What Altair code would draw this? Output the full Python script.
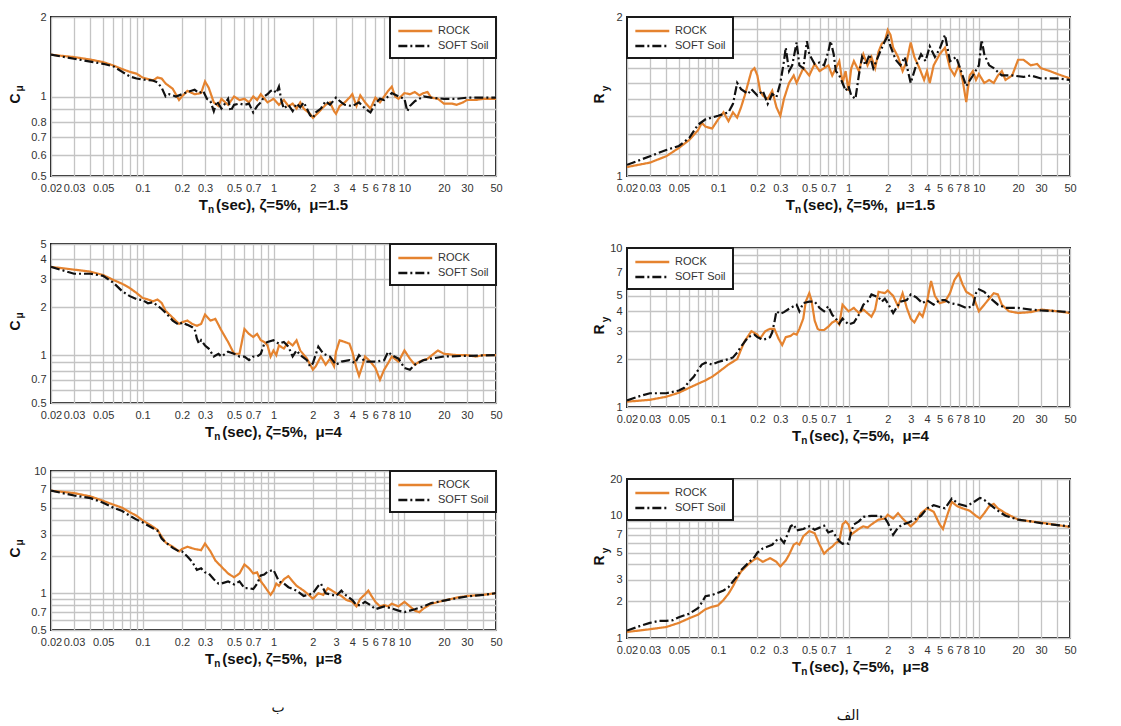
import altair as alt
import pandas as pd

FONT = "Liberation Sans"
ROCK_COLOR = "#E5832F"
SOFT_COLOR = "#111111"
SERIES = ["ROCK", "SOFT Soil"]

X_GRID = [0.02, 0.03, 0.04, 0.05, 0.06, 0.07, 0.08, 0.09, 0.1, 0.2, 0.3, 0.4, 0.5, 0.6, 0.7, 0.8, 0.9,
          1, 2, 3, 4, 5, 6, 7, 8, 9, 10, 20, 30, 40, 50]
X_LABELS = [0.02, 0.03, 0.05, 0.1, 0.2, 0.3, 0.5, 0.7, 1, 2, 3, 4, 5, 6, 7, 8, 10, 20, 30, 50]

# ---------------- Panel data (T [sec], value) ----------------
c15_rock = [(0.02,1.44),(0.03,1.41),(0.04,1.38),(0.05,1.35),(0.06,1.31),(0.07,1.27),(0.08,1.24),(0.09,1.22),(0.1,1.18),
            (0.12,1.15),(0.13,1.18),(0.14,1.17),(0.15,1.12),(0.17,1.07),(0.19,0.97),(0.2,1.0),(0.22,1.05),(0.25,1.02),
            (0.28,1.03),(0.3,1.14),(0.32,1.08),(0.35,0.95),(0.38,0.92),(0.4,0.98),(0.45,0.93),(0.5,1.0),(0.55,0.97),
            (0.6,0.98),(0.65,0.95),(0.7,1.0),(0.75,0.97),(0.8,1.02),(0.9,0.95),(1.0,0.98),(1.1,0.93),(1.2,0.97),
            (1.3,0.92),(1.4,0.94),(1.5,0.90),(1.6,0.95),(1.7,0.90),(1.8,0.88),(1.9,0.86),(2.0,0.83),(2.2,0.87),
            (2.5,0.93),(2.7,0.95),(2.9,0.88),(3.0,0.86),(3.2,0.92),(3.5,0.95),(3.8,0.99),(4.0,1.02),(4.3,0.92),
            (4.6,1.01),(5.0,0.95),(5.5,0.90),(6.0,0.99),(6.5,0.95),(7.0,1.0),(7.5,1.05),(8.0,1.09),(8.5,1.0),
            (9,0.98),(10,1.03),(11,1.02),(12,1.04),(13,1.01),(14,1.03),(15,1.04),(16,0.99),(18,0.98),(20,0.94),
            (23,0.94),(25,0.93),(28,0.95),(30,0.97),(35,0.97),(40,0.98),(50,0.98)]
c15_soft = [(0.02,1.44),(0.03,1.39),(0.05,1.33),(0.06,1.30),(0.07,1.24),(0.08,1.19),(0.09,1.17),(0.1,1.16),(0.12,1.15),
            (0.13,1.13),(0.14,1.08),(0.15,1.00),(0.16,1.02),(0.18,1.0),(0.2,1.02),(0.22,1.04),(0.25,1.06),(0.27,1.03),
            (0.29,1.05),(0.31,0.98),(0.33,0.96),(0.35,0.88),(0.37,0.96),(0.4,0.90),(0.42,0.93),(0.45,0.98),(0.47,0.88),
            (0.5,0.93),(0.55,0.94),(0.6,0.93),(0.65,0.94),(0.7,0.87),(0.75,0.92),(0.8,0.95),(0.85,1.0),(0.9,1.02),
            (0.95,1.05),(1.0,1.06),(1.05,1.03),(1.1,1.09),(1.15,0.96),(1.2,0.90),(1.3,0.93),(1.4,0.88),(1.5,0.94),
            (1.6,0.91),(1.7,0.95),(1.8,0.90),(1.9,0.85),(2.0,0.83),(2.1,0.87),(2.3,0.90),(2.5,0.96),(2.7,0.93),
            (3.0,0.99),(3.3,0.95),(3.5,0.93),(4.0,0.92),(4.5,0.95),(5.0,0.90),(5.5,0.87),(6.0,0.94),(6.5,0.98),
            (7.0,0.97),(7.5,1.0),(8.0,1.03),(9.0,1.0),(10,0.98),(10.5,0.88),(11,0.92),(12,0.96),(14,1.0),(16,0.99),
            (20,0.98),(25,0.98),(30,0.99),(40,0.99),(50,0.99)]

c4_rock = [(0.02,3.59),(0.03,3.45),(0.04,3.35),(0.05,3.19),(0.06,2.97),(0.07,2.81),(0.08,2.64),(0.09,2.46),(0.1,2.29),
           (0.11,2.24),(0.12,2.18),(0.13,2.24),(0.14,2.13),(0.15,1.90),(0.17,1.72),(0.19,1.57),(0.2,1.61),(0.22,1.65),
           (0.24,1.57),(0.26,1.53),(0.28,1.57),(0.3,1.80),(0.33,1.65),(0.36,1.69),(0.4,1.43),(0.45,1.21),(0.5,1.02),
           (0.55,1.02),(0.6,1.46),(0.65,1.36),(0.7,1.30),(0.75,1.36),(0.8,1.24),(0.85,1.21),(0.9,1.15),(0.95,0.98),
           (1.0,1.07),(1.05,1.0),(1.1,1.15),(1.2,1.10),(1.3,1.21),(1.4,1.15),(1.5,1.24),(1.6,1.07),(1.8,0.95),
           (2.0,0.81),(2.1,0.85),(2.3,0.98),(2.5,0.87),(2.7,0.95),(2.9,0.85),(3.0,1.05),(3.2,1.24),(3.5,1.21),
           (3.8,1.18),(4.0,1.05),(4.3,0.83),(4.5,0.74),(4.8,0.87),(5.0,0.98),(5.5,0.91),(6.0,0.83),(6.5,0.70),
           (7.0,0.81),(7.5,0.89),(8.0,0.98),(9.0,0.91),(10,1.07),(11,0.95),(12,0.87),(13,0.91),(15,0.95),(18,1.07),
           (20,1.02),(25,1.0),(30,1.0),(35,0.98),(40,1.0),(50,1.0)]
c4_soft = [(0.02,3.59),(0.03,3.25),(0.04,3.25),(0.05,3.15),(0.06,2.85),(0.07,2.52),(0.08,2.35),(0.09,2.25),(0.1,2.22),
           (0.11,2.12),(0.12,2.15),(0.13,2.05),(0.14,1.95),(0.15,1.85),(0.17,1.65),(0.19,1.55),(0.2,1.60),(0.22,1.55),
           (0.24,1.50),(0.25,1.46),(0.26,1.27),(0.27,1.18),(0.28,1.24),(0.3,1.15),(0.32,1.10),(0.35,0.98),(0.38,1.02),
           (0.4,0.98),(0.45,1.05),(0.5,1.02),(0.55,0.98),(0.6,0.98),(0.65,0.93),(0.7,0.98),(0.75,0.98),(0.8,1.02),
           (0.85,1.18),(0.9,1.21),(1.0,1.24),(1.1,1.18),(1.2,1.21),(1.3,1.13),(1.4,0.98),(1.5,1.07),(1.6,1.0),
           (1.8,0.93),(1.9,0.85),(2.0,0.89),(2.2,1.13),(2.4,1.02),(2.7,0.98),(3.0,0.87),(3.3,0.91),(3.8,0.93),
           (4.2,0.89),(4.5,1.0),(5.0,0.91),(6.0,0.91),(7.0,0.93),(7.5,1.05),(8.0,1.0),(9.0,0.95),(10,0.83),(11,0.81),
           (12,0.87),(14,0.93),(16,0.95),(20,0.98),(30,0.99),(50,1.0)]

c8_rock = [(0.02,6.9),(0.03,6.6),(0.04,6.2),(0.05,5.7),(0.06,5.3),(0.07,5.0),(0.08,4.6),(0.09,4.3),(0.1,3.95),
           (0.12,3.5),(0.13,3.3),(0.14,2.9),(0.15,2.6),(0.17,2.4),(0.19,2.2),(0.2,2.3),(0.22,2.4),(0.25,2.3),
           (0.28,2.25),(0.3,2.55),(0.33,2.2),(0.36,1.85),(0.4,1.65),(0.45,1.45),(0.5,1.35),(0.55,1.45),(0.6,1.72),
           (0.65,1.6),(0.7,1.45),(0.75,1.48),(0.8,1.25),(0.85,1.15),(0.9,1.05),(0.95,0.97),(1.0,1.05),(1.05,1.2),
           (1.1,1.15),(1.2,1.3),(1.3,1.38),(1.4,1.25),(1.5,1.15),(1.7,1.05),(1.9,0.95),(2.0,0.9),(2.2,1.0),
           (2.4,0.97),(2.6,1.1),(2.8,1.05),(3.0,1.0),(3.3,0.95),(3.6,0.88),(4.0,0.85),(4.3,0.78),(4.6,0.90),
           (5.0,0.98),(5.3,1.05),(5.6,0.95),(6.0,0.85),(6.5,0.78),(7.0,0.80),(7.5,0.78),(8.0,0.82),(9,0.78),
           (10,0.85),(11,0.78),(12,0.72),(13,0.70),(14,0.75),(16,0.82),(20,0.87),(25,0.92),(30,0.95),(40,0.97),(50,1.0)]
c8_soft = [(0.02,6.9),(0.03,6.3),(0.04,6.0),(0.05,5.5),(0.06,5.0),(0.07,4.7),(0.08,4.3),(0.09,4.0),(0.1,3.8),
           (0.12,3.4),(0.13,3.25),(0.14,2.8),(0.15,2.6),(0.17,2.35),(0.19,2.2),(0.2,2.2),(0.22,2.0),(0.24,1.8),
           (0.26,1.55),(0.28,1.6),(0.3,1.48),(0.32,1.45),(0.35,1.3),(0.38,1.2),(0.4,1.2),(0.45,1.25),(0.5,1.18),
           (0.55,1.25),(0.6,1.1),(0.65,1.1),(0.7,1.08),(0.75,1.2),(0.8,1.4),(0.85,1.42),(0.9,1.5),(1.0,1.55),
           (1.1,1.25),(1.2,1.2),(1.3,1.12),(1.5,1.05),(1.7,0.95),(1.9,0.98),(2.0,1.0),(2.2,1.15),(2.3,1.2),
           (2.5,1.0),(2.8,0.97),(3.0,0.95),(3.3,1.05),(3.5,0.98),(4.0,0.88),(4.3,0.80),(4.6,0.80),(5.0,0.85),
           (5.5,0.80),(6.0,0.74),(7.0,0.78),(8.0,0.75),(9,0.72),(10,0.70),(11,0.72),(12,0.74),(14,0.78),(16,0.83),
           (20,0.87),(25,0.91),(30,0.94),(40,0.97),(50,1.0)]

r15_rock = [(0.02,1.04),(0.03,1.06),(0.04,1.09),(0.05,1.13),(0.06,1.17),(0.07,1.22),(0.075,1.26),(0.08,1.24),(0.09,1.23),
            (0.1,1.28),(0.11,1.32),(0.12,1.27),(0.13,1.32),(0.14,1.29),(0.15,1.35),(0.16,1.42),(0.17,1.50),(0.18,1.58),
            (0.19,1.60),(0.2,1.55),(0.21,1.45),(0.22,1.42),(0.24,1.40),(0.26,1.45),(0.28,1.35),(0.3,1.30),(0.32,1.40),
            (0.35,1.50),(0.38,1.55),(0.4,1.50),(0.45,1.60),(0.5,1.55),(0.55,1.63),(0.6,1.58),(0.65,1.60),(0.7,1.62),
            (0.75,1.55),(0.8,1.60),(0.85,1.65),(0.9,1.50),(0.95,1.58),(1.0,1.45),(1.05,1.60),(1.1,1.65),(1.2,1.58),
            (1.3,1.70),(1.4,1.62),(1.5,1.68),(1.6,1.60),(1.7,1.72),(1.8,1.78),(1.9,1.80),(2.0,1.89),(2.1,1.85),
            (2.2,1.75),(2.4,1.68),(2.6,1.58),(2.8,1.65),(3.0,1.79),(3.2,1.68),(3.5,1.60),(3.8,1.52),(4.0,1.58),
            (4.2,1.50),(4.5,1.62),(5.0,1.70),(5.5,1.75),(6.0,1.60),(6.5,1.55),(7.0,1.62),(7.5,1.52),(8.0,1.38),
            (8.5,1.55),(9.0,1.58),(9.5,1.52),(10,1.56),(11,1.50),(12,1.52),(13,1.50),(14,1.55),(15,1.58),(16,1.52),
            (18,1.55),(20,1.66),(22,1.66),(25,1.62),(28,1.63),(30,1.60),(35,1.58),(40,1.56),(50,1.53)]
r15_soft = [(0.02,1.05),(0.03,1.09),(0.04,1.12),(0.05,1.14),(0.06,1.18),(0.07,1.25),(0.08,1.28),(0.1,1.30),(0.12,1.32),
            (0.13,1.37),(0.14,1.50),(0.15,1.46),(0.17,1.43),(0.18,1.46),(0.2,1.42),(0.22,1.45),(0.24,1.37),(0.26,1.43),
            (0.28,1.41),(0.3,1.50),(0.32,1.65),(0.33,1.75),(0.35,1.58),(0.37,1.62),(0.4,1.79),(0.42,1.62),(0.45,1.60),
            (0.48,1.80),(0.5,1.70),(0.55,1.63),(0.6,1.64),(0.65,1.62),(0.7,1.72),(0.73,1.80),(0.77,1.70),(0.8,1.58),
            (0.85,1.55),(0.9,1.50),(0.95,1.45),(1.0,1.48),(1.05,1.42),(1.13,1.40),(1.2,1.55),(1.27,1.68),(1.35,1.62),
            (1.45,1.70),(1.55,1.60),(1.65,1.66),(1.75,1.72),(1.9,1.80),(2.0,1.84),(2.1,1.76),(2.3,1.66),(2.5,1.62),
            (2.7,1.68),(3.0,1.50),(3.3,1.62),(3.6,1.70),(3.9,1.65),(4.2,1.76),(4.6,1.68),(5.0,1.74),(5.5,1.85),
            (6.0,1.65),(6.7,1.68),(7.3,1.58),(8.0,1.48),(9.0,1.55),(10,1.62),(10.5,1.81),(11,1.70),(12,1.62),
            (13,1.60),(15,1.55),(18,1.55),(22,1.54),(25,1.55),(30,1.53),(40,1.53),(50,1.52)]

r4_rock = [(0.02,1.08),(0.03,1.11),(0.04,1.16),(0.05,1.23),(0.06,1.32),(0.07,1.40),(0.08,1.47),(0.09,1.55),(0.1,1.65),
           (0.12,1.85),(0.14,2.0),(0.15,2.3),(0.16,2.6),(0.18,3.0),(0.2,2.85),(0.21,2.70),(0.23,3.0),(0.25,3.1),
           (0.27,3.1),(0.29,2.70),(0.31,2.45),(0.33,2.75),(0.36,2.80),(0.38,2.90),(0.4,2.85),(0.42,3.10),(0.45,3.60),
           (0.47,4.6),(0.5,5.2),(0.52,4.7),(0.55,3.5),(0.58,3.1),(0.6,3.05),(0.65,3.05),(0.7,3.2),(0.75,3.4),
           (0.8,3.5),(0.85,3.3),(0.9,4.4),(1.0,4.0),(1.1,4.2),(1.2,3.9),(1.3,4.1),(1.5,3.7),(1.6,4.1),(1.7,5.3),
           (1.9,5.2),(2.0,5.4),(2.2,5.0),(2.4,4.3),(2.6,5.2),(2.8,4.2),(3.0,3.6),(3.2,3.4),(3.5,3.9),(3.7,3.7),
           (4.0,4.6),(4.3,6.2),(4.6,5.0),(5.0,4.5),(5.5,4.6),(6.0,5.2),(6.5,6.3),(7.0,6.9),(7.5,5.9),(8,5.3),
           (9,5.0),(10,4.0),(11,4.4),(12,4.8),(13,5.2),(14,5.1),(15,4.4),(17,4.0),(20,3.9),(25,3.95),(30,4.1),
           (35,4.05),(40,4.0),(50,3.9)]
r4_soft = [(0.02,1.10),(0.025,1.17),(0.03,1.22),(0.04,1.22),(0.05,1.27),(0.055,1.32),(0.06,1.45),(0.065,1.55),
           (0.07,1.70),(0.075,1.85),(0.08,1.90),(0.09,1.85),(0.1,1.92),(0.12,2.0),(0.13,2.05),(0.14,2.2),(0.15,2.4),
           (0.17,2.75),(0.19,2.85),(0.2,2.75),(0.22,2.65),(0.24,2.70),(0.25,2.75),(0.26,2.95),(0.27,3.4),(0.28,4.0),
           (0.3,3.85),(0.32,3.95),(0.35,4.15),(0.4,4.4),(0.42,4.0),(0.45,4.5),(0.5,4.6),(0.55,4.6),(0.6,4.2),
           (0.65,4.0),(0.7,4.3),(0.75,3.8),(0.8,3.6),(0.85,3.35),(0.9,3.6),(1.0,3.3),(1.1,3.4),(1.2,3.8),(1.3,4.4),
           (1.4,4.6),(1.5,5.1),(1.7,4.9),(1.8,4.6),(1.9,4.8),(2.0,4.5),(2.2,3.9),(2.5,4.6),(2.8,4.7),(3.0,5.1),
           (3.3,4.9),(3.7,4.5),(4.0,4.7),(4.5,4.4),(5.0,4.7),(5.5,4.7),(6.0,4.5),(7.0,4.4),(8.0,4.2),(9.0,4.3),
           (9.5,5.2),(10,5.5),(11,5.3),(12,4.9),(14,4.4),(16,4.2),(20,4.2),(25,4.1),(30,4.05),(40,4.0),(50,3.95)]

r8_rock = [(0.02,1.12),(0.03,1.18),(0.04,1.23),(0.05,1.33),(0.06,1.45),(0.07,1.55),(0.08,1.72),(0.09,1.80),(0.1,1.85),
           (0.11,2.05),(0.12,2.3),(0.13,2.65),(0.14,3.1),(0.15,3.5),(0.17,4.0),(0.19,4.4),(0.2,4.5),(0.22,4.2),
           (0.25,4.5),(0.28,4.2),(0.3,3.85),(0.33,4.3),(0.35,4.8),(0.38,5.8),(0.4,6.0),(0.42,5.8),(0.45,6.8),
           (0.5,7.5),(0.55,7.2),(0.6,5.8),(0.65,4.9),(0.7,5.3),(0.75,5.6),(0.8,6.0),(0.85,6.2),(0.9,8.5),(0.95,9.0),
           (1.0,8.5),(1.05,7.0),(1.1,7.3),(1.2,7.8),(1.3,8.2),(1.4,8.0),(1.5,8.5),(1.7,9.3),(1.9,9.5),(2.0,10.2),
           (2.2,9.5),(2.4,10.5),(2.6,9.5),(2.8,8.8),(3.0,8.2),(3.3,9.0),(3.6,10.5),(4.0,11.5),(4.5,10.8),(5.0,8.5),
           (5.3,7.8),(5.7,10.0),(6.2,13.0),(6.8,12.0),(7.5,11.5),(8.5,11.0),(9.5,10.0),(10.2,9.5),(11,10.5),
           (12,12.0),(13,12.5),(14,11.5),(16,10.5),(20,9.3),(25,9.0),(30,8.8),(40,8.4),(50,8.1)]
r8_soft = [(0.02,1.15),(0.025,1.25),(0.03,1.33),(0.035,1.38),(0.04,1.38),(0.045,1.40),(0.05,1.48),(0.06,1.58),
           (0.07,1.75),(0.075,1.95),(0.08,2.2),(0.09,2.25),(0.1,2.35),(0.11,2.45),(0.12,2.6),(0.13,2.9),(0.14,3.2),
           (0.15,3.6),(0.17,4.1),(0.19,4.6),(0.2,5.0),(0.22,5.4),(0.24,5.6),(0.26,5.8),(0.28,6.3),(0.3,6.5),
           (0.32,6.0),(0.34,7.0),(0.36,8.2),(0.38,8.5),(0.4,7.6),(0.45,7.8),(0.5,8.2),(0.55,7.7),(0.6,8.0),
           (0.65,8.3),(0.7,7.3),(0.75,7.5),(0.8,6.8),(0.85,6.2),(0.9,5.9),(0.95,6.0),(1.0,5.9),(1.05,7.5),(1.1,8.5),
           (1.2,9.0),(1.3,9.8),(1.5,10.0),(1.7,10.0),(1.9,9.6),(2.0,8.8),(2.2,7.0),(2.4,8.0),(2.6,8.5),(2.9,8.8),
           (3.2,9.3),(3.6,10.0),(4.0,11.5),(4.5,12.2),(5.0,11.8),(5.5,11.5),(6.2,13.8),(7.0,12.5),(8.0,12.0),
           (9.0,12.8),(10.2,14.0),(11,13.5),(12,12.5),(14,11.0),(16,10.0),(20,9.3),(25,9.0),(30,8.7),(40,8.4),(50,8.2)]

# y-axis grid values and labelled values per panel
c15_ygrid = [0.5, 0.6, 0.7, 0.8, 0.9, 1, 2]
c15_ylab = [0.5, 0.6, 0.7, 0.8, 1, 2]
c4_ygrid = [0.5, 0.6, 0.7, 0.8, 0.9, 1, 2, 3, 4, 5]
c4_ylab = [0.5, 0.7, 1, 2, 3, 4, 5]
c8_ygrid = [0.5, 0.6, 0.7, 0.8, 0.9, 1, 2, 3, 4, 5, 6, 7, 8, 9, 10]
c8_ylab = [0.5, 0.7, 1, 2, 3, 5, 7, 10]
r15_ygrid = [1, 1.1, 1.2, 1.3, 1.4, 1.5, 1.6, 1.7, 1.8, 1.9, 2]
r15_ylab = [1, 2]
r4_ygrid = [1, 2, 3, 4, 5, 6, 7, 8, 9, 10]
r4_ylab = [1, 2, 3, 4, 5, 7, 10]
r8_ygrid = [1, 2, 3, 4, 5, 6, 7, 8, 9, 10, 20]
r8_ylab = [1, 2, 3, 5, 7, 10, 20]

# approx. Liberation Sans Bold advance widths (per 1000 em) for the composed x title
CW = {"(": 333, ")": 333, "s": 556, "e": 556, "c": 556, ",": 278, " ": 278, "\u00a0": 278,
      "ζ": 500, "=": 584, "%": 889, "μ": 577, ".": 278}


def text_mark(txt, x, y, size, bold=True, align="center", baseline="middle", angle=0, font=FONT, color="#111"):
    kw = dict(text=txt, align=align, baseline=baseline, fontSize=size, font=font, color=color)
    if bold:
        kw["fontWeight"] = "bold"
    if angle:
        kw["angle"] = angle
    return alt.Chart().mark_text(**kw).encode(x=alt.value(x), y=alt.value(y))


def label_expr(vals):
    return "indexof([" + ",".join(repr(v) for v in vals) + "], datum.value) >= 0 ? datum.label : ''"


def panel(rock, soft, ydom, ygrid, ylab, sym, sub, mu, orient, w, h, tdx=0, extra=None):
    df = pd.DataFrame(
        [{"T": t, "v": v, "series": "ROCK"} for t, v in rock]
        + [{"T": t, "v": v, "series": "SOFT Soil"} for t, v in soft]
    )
    leg = alt.Legend(orient=orient, title=None, offset=0)
    lines = alt.Chart(df).mark_line(strokeWidth=2.2, clip=True).encode(
        x=alt.X("T:Q", scale=alt.Scale(type="log", domain=[0.02, 50], nice=False),
                axis=alt.Axis(values=X_GRID, format="~g", labelExpr=label_expr(X_LABELS), title=None,
                              labelFlush=False, labelOverlap=False, labelPadding=6)),
        y=alt.Y("v:Q", scale=alt.Scale(type="log", domain=ydom, nice=False),
                axis=alt.Axis(values=ygrid, format="~g", labelExpr=label_expr(ylab), title=None,
                              labelOverlap=False, labelPadding=5, labelFlush=False)),
        color=alt.Color("series:N", scale=alt.Scale(domain=SERIES, range=[ROCK_COLOR, SOFT_COLOR]), legend=leg),
        strokeDash=alt.StrokeDash("series:N", scale=alt.Scale(domain=SERIES, range=[[1, 0], [9, 3, 2, 3]]),
                                  legend=leg),
    )
    layers = [lines]
    # y title with subscript (rotated)
    if sym == "C":
        layers.append(text_mark("C", -35, h / 2 + 2, 14, angle=270))
        layers.append(text_mark(sub, -31, h / 2 - 8, 10, angle=270))
    else:
        layers.append(text_mark("R", -27, h / 2 + 2, 14, angle=270))
        layers.append(text_mark(sub, -21, h / 2 - 8, 10, angle=270))
    # x title with subscript
    rest = "(sec), ζ=5%,\u00a0 μ=" + mu
    wT, wn = 0.611 * 15, 0.611 * 10
    wr = sum(CW.get(ch, 556) for ch in rest) * 15 / 1000
    total = wT + wn + 2 + wr
    x0 = w / 2 - total / 2 + tdx
    by = h + 34
    layers.append(text_mark("T", x0, by, 15, align="left", baseline="alphabetic"))
    layers.append(text_mark("n", x0 + wT, by + 3, 10, align="left", baseline="alphabetic"))
    layers.append(text_mark(rest, x0 + wT + wn + 2, by, 15, align="left", baseline="alphabetic"))
    if extra is not None:
        layers.append(extra)
    return alt.layer(*layers).properties(width=w, height=h)


WL, WR, H = 445, 443, 159

p1 = panel(c15_rock, c15_soft, [0.5, 2], c15_ygrid, c15_ylab, "C", "μ", "1.5", "top-right", WL, H)
p2 = panel(c4_rock, c4_soft, [0.5, 5], c4_ygrid, c4_ylab, "C", "μ", "4", "top-right", WL, H)
p3 = panel(c8_rock, c8_soft, [0.5, 10], c8_ygrid, c8_ylab, "C", "μ", "8", "top-right", WL, H,
           extra=text_mark("ب", 227, H + 78, 14, bold=False, font="DejaVu Sans"))
p4 = panel(r15_rock, r15_soft, [1, 2], r15_ygrid, r15_ylab, "R", "y", "1.5", "top-left", WR, H, tdx=12)
p5 = panel(r4_rock, r4_soft, [1, 10], r4_ygrid, r4_ylab, "R", "y", "4", "top-left", WR, H, tdx=12)
p6 = panel(r8_rock, r8_soft, [1, 20], r8_ygrid, r8_ylab, "R", "y", "8", "top-left", WR, H, tdx=12,
           extra=text_mark("الف", 221, H + 78, 14, bold=False, font="DejaVu Sans"))

RES = dict(x="independent", y="independent", color="independent", strokeDash="independent")
left = alt.vconcat(p1, p2, p3, spacing=68, bounds="flush").resolve_scale(**RES)
right = alt.vconcat(p4, p5, p6, spacing=72, bounds="flush").resolve_scale(**RES)

chart = (
    alt.hconcat(left, right, spacing=88)
    .resolve_scale(**RES)
    .properties(padding={"left": 0, "top": 2, "right": 5, "bottom": 0}, background="white")
    .configure_view(stroke="#1a1a1a", strokeWidth=2)
    .configure_axis(gridColor="#c4c4c4", gridWidth=1.3, labelFont=FONT, labelFontSize=11, labelColor="#333",
                    ticks=False, domain=False)
    .configure_legend(strokeColor="#1a1a1a", strokeWidth=2, fillColor="white", padding=7, rowPadding=3,
                      labelFont=FONT, labelFontSize=11, labelColor="#333", symbolType="M-1,0H5",
                      symbolSize=128, symbolStrokeWidth=2.5, labelOffset=27, offset=0)
)

chart.save("out.html", embed_options={"renderer": "svg", "actions": False})
